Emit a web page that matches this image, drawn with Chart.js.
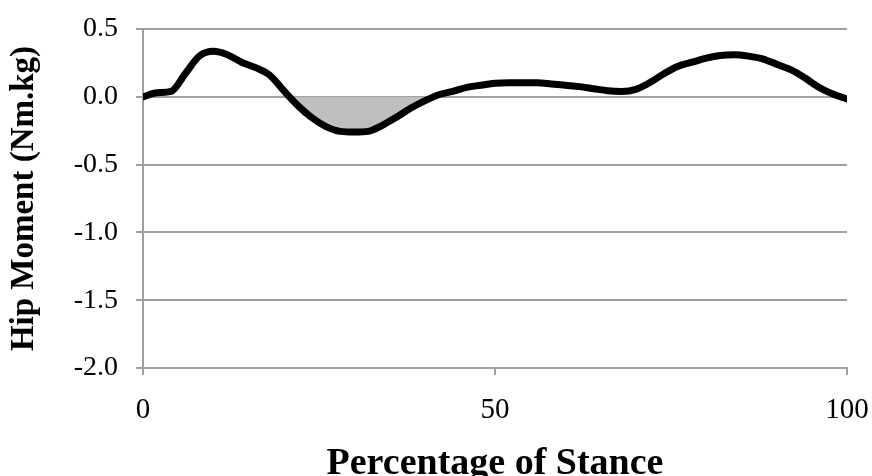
<!DOCTYPE html>
<html>
<head>
<meta charset="utf-8">
<script src="https://cdn.jsdelivr.net/npm/chart.js@4.4.1/dist/chart.umd.min.js"></script>
<style>
  html, body { margin: 0; padding: 0; background: #ffffff; }
  #wrap { width: 872px; height: 476px; }
</style>
</head>
<body>
<div id="wrap"><canvas id="c" width="872" height="476"></canvas></div>
<script>
// Percentage of stance (x) and hip moment (Nm.kg)
const stance = [0, 2, 4, 6, 8, 10, 12, 14, 16, 18, 20, 22, 24, 26, 28, 30, 32, 34, 36, 38, 40,
  42, 44, 46, 48, 50, 52, 54, 56, 58, 60, 62, 64, 66, 68, 70, 72, 74, 76, 78, 80,
  82, 84, 86, 88, 90, 92, 94, 96, 98, 100];
const hipMoment = [0.00, 0.03, 0.04, 0.17, 0.30, 0.335, 0.31, 0.255, 0.215, 0.16, 0.045,
  -0.065, -0.155, -0.22, -0.255, -0.26, -0.255, -0.21, -0.15, -0.085, -0.03,
  0.015, 0.04, 0.07, 0.085, 0.10, 0.104, 0.104, 0.104, 0.095, 0.085,
  0.075, 0.06, 0.045, 0.04, 0.055, 0.105, 0.17, 0.225, 0.255, 0.285,
  0.305, 0.31, 0.30, 0.28, 0.24, 0.20, 0.14, 0.07, 0.02, -0.015];
const xTickValues = [0, 50, 100];
const yTickValues = [0.5, 0.0, -0.5, -1.0, -1.5, -2.0];
const xTitle = 'Percentage of Stance';
const yTitle = 'Hip Moment (Nm.kg)';

const serif = "'Liberation Serif', 'Times New Roman', serif";
const gridGray = '#a0a0a0';

function zeroPad(s) { s.paddingLeft = 0; s.paddingRight = 0; s.paddingTop = 0; s.paddingBottom = 0; }

new Chart(document.getElementById('c'), {
  type: 'line',
  data: {
    datasets: [{
      data: stance.map((x, i) => ({ x: x, y: hipMoment[i] })),
      borderColor: '#000000',
      borderWidth: 7,
      borderCapStyle: 'round',
      borderJoinStyle: 'round',
      pointRadius: 0,
      tension: 0.4,
      cubicInterpolationMode: 'monotone',
      fill: { target: { value: 0 }, above: 'rgba(0,0,0,0)', below: '#bfbfc1' }
    }]
  },
  options: {
    responsive: false,
    animation: false,
    layout: { padding: { top: 29, right: 25, bottom: 0, left: 0 } },
    plugins: { legend: { display: false }, tooltip: { enabled: false } },
    scales: {
      x: {
        type: 'linear',
        min: 0, max: 100,
        afterBuildTicks: (s) => { s.ticks = xTickValues.map(v => ({ value: v })); },
        afterFit: (s) => { s.height = 108; zeroPad(s); },
        ticks: {
          autoSkip: false, maxRotation: 0, padding: 18,
          color: '#000000',
          font: { family: serif, size: 29 },
          callback: (v) => String(v)
        },
        grid: { drawOnChartArea: false, drawTicks: true, tickLength: 7, color: gridGray, lineWidth: 2 },
        border: { display: true, color: gridGray, width: 2 },
        title: {
          display: true, text: xTitle, color: '#000000',
          font: { family: serif, size: 38, weight: 'bold', lineHeight: 1 },
          padding: { top: 0, bottom: -7 }
        }
      },
      y: {
        type: 'linear',
        min: -2, max: 0.5,
        afterBuildTicks: (s) => { s.ticks = yTickValues.map(v => ({ value: v })); },
        afterFit: (s) => { s.width = 143; zeroPad(s); },
        ticks: {
          autoSkip: false, padding: 18,
          color: '#000000',
          font: { family: serif, size: 28 },
          callback: (v) => Number(v).toFixed(1)
        },
        grid: { drawOnChartArea: true, drawTicks: true, tickLength: 7, color: gridGray, lineWidth: 2 },
        border: { display: true, color: gridGray, width: 2 },
        title: {
          display: true, text: yTitle, color: '#000000',
          font: { family: serif, size: 33, weight: 'bold', lineHeight: 1.2 },
          padding: { top: 5, bottom: 0 }
        }
      }
    }
  }
});
</script>
</body>
</html>
